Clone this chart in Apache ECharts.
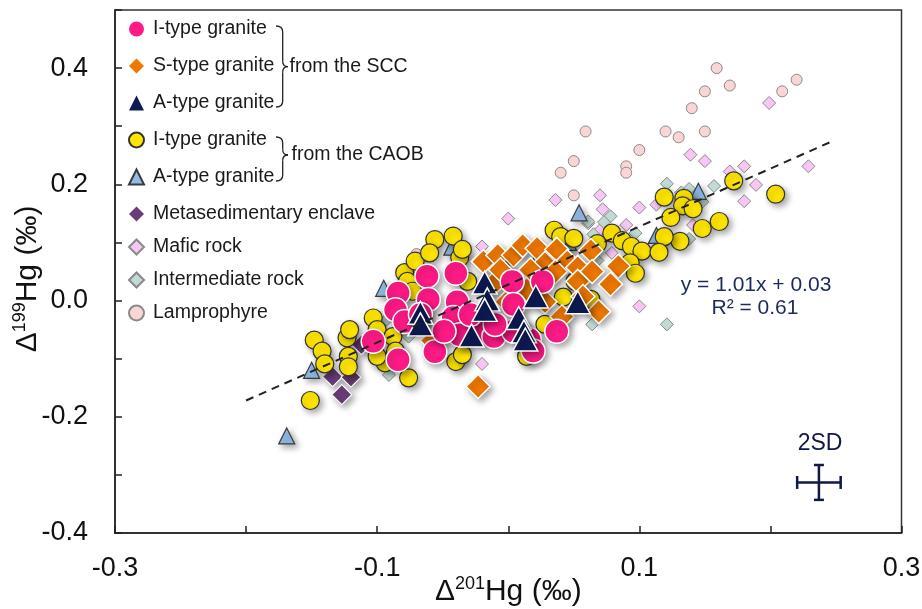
<!DOCTYPE html>
<html>
<head>
<meta charset="utf-8">
<script src="https://cdn.jsdelivr.net/npm/echarts@6/dist/echarts.min.js"></script>
<style>
html,body{margin:0;padding:0;background:#fff;}
#chart{width:922px;height:609px;}
</style>
</head>
<body>
<div id="chart"></div>
<script>
// ---- data (Δ201Hg, Δ199Hg in ‰) ----
const sccIType = [
  [-0.103,-0.070],[-0.084,-0.102],[-0.084,0.013],[-0.086,-0.016],[-0.079,-0.036],
  [-0.062,0.042],[-0.061,0.002],[-0.067,-0.024],[-0.056,-0.088],[-0.040,0.047],
  [-0.039,-0.002],[-0.042,-0.029],[-0.037,-0.059],[-0.020,-0.053],[-0.011,-0.062],
  [0.003,0.033],[0.004,-0.053],[0.016,-0.067],[0.026,0.033],[0.037,-0.053],
  [0.019,-0.087],[0.004,-0.007],[-0.010,-0.041],[-0.049,-0.053],[-0.029,-0.024]
];
const sccSType = [
  [-0.019,0.067],[-0.008,0.078],[0.004,0.078],[0.011,0.095],[0.022,0.090],
  [0.028,0.064],[0.037,0.088],[0.063,0.086],[0.045,0.067],[0.036,0.050],
  [0.053,0.057],[0.053,0.033],[0.064,0.050],[0.084,0.059],[0.078,0.028],
  [0.069,-0.019],[0.041,-0.028],[0.028,-0.002],[-0.010,0.031],[-0.001,-0.002],
  [-0.006,0.053],[0.017,0.053],[0.014,0.019],[-0.023,-0.148],[-0.058,-0.069],
  [0.057,0.007]
];
const sccAType = [
  [-0.067,-0.021],[-0.067,-0.041],[-0.028,-0.060],[-0.018,0.031],[-0.016,0.002],
  [-0.018,-0.016],[0.008,-0.030],[0.012,-0.053],[0.013,-0.067],[0.021,0.007],
  [0.053,-0.003]
];
const caobIType = [
  [-0.148,-0.068],[-0.142,-0.087],[-0.140,-0.109],[-0.151,-0.172],[-0.123,-0.064],
  [-0.121,-0.050],[-0.122,-0.096],[-0.122,-0.114],[-0.103,-0.030],[-0.100,-0.050],
  [-0.088,-0.062],[-0.094,-0.107],[-0.076,-0.133],[-0.100,-0.096],[-0.086,-0.087],
  [-0.079,0.048],[-0.071,0.068],[-0.077,0.033],[-0.056,0.105],[-0.060,0.082],
  [-0.037,0.074],[-0.042,0.111],[-0.035,0.088],[-0.040,-0.105],[-0.035,-0.093],
  [0.014,-0.096],[0.035,0.121],[0.040,0.110],[0.050,0.107],[0.068,0.098],
  [0.079,0.116],[0.087,0.103],[0.094,0.093],[0.102,0.085],[0.093,0.065],
  [0.097,0.047],[0.042,0.006],[0.028,-0.041],[0.026,0.076],[0.119,0.178],
  [0.134,0.176],[0.133,0.163],[0.141,0.158],[0.124,0.143],[0.148,0.124],
  [0.161,0.136],[0.131,0.102],[0.119,0.110],[0.115,0.083],[0.172,0.206],
  [0.204,0.183],[-0.073,0.016],[-0.067,-0.029],[-0.031,0.033],[-0.006,0.057],
  [0.009,-0.050],[0.051,0.033],[0.063,0.002]
];
const caobAType = [
  [-0.169,-0.233],[-0.150,-0.120],[-0.095,0.021],[-0.043,0.092],[0.054,0.151],
  [0.046,0.100],[0.113,0.112],[0.145,0.188]
];
const metasedimentary = [
  [-0.134,-0.131],[-0.120,-0.132],[-0.127,-0.162],[-0.112,-0.076]
];
const maficRock = [
  [0.199,0.340],[0.229,0.231],[0.139,0.251],[0.150,0.240],[0.180,0.231],
  [0.169,0.222],[0.189,0.199],[0.180,0.171],[0.036,0.173],[0.070,0.181],
  [0.072,0.157],[0.100,0.160],[0.113,0.165],[0.000,0.141],[0.061,0.133],
  [0.070,0.121],[0.090,0.130],[0.141,0.130],[0.100,-0.010],[-0.020,0.093],
  [0.079,0.082],[-0.020,-0.109]
];
const intermediateRock = [
  [0.121,0.201],[0.157,0.197],[0.138,0.192],[0.132,0.186],[0.148,0.170],
  [0.078,0.145],[0.073,0.135],[0.061,0.136],[0.097,0.116],[0.065,0.114],
  [0.138,0.106],[0.121,-0.041],[0.064,-0.041],[-0.076,-0.062],[-0.091,-0.128],
  [0.068,0.069],[-0.093,-0.033]
];
const lamprophyre = [
  [0.159,0.400],[0.150,0.360],[0.169,0.370],[0.220,0.380],[0.209,0.360],
  [0.140,0.331],[0.059,0.291],[0.120,0.291],[0.130,0.281],[0.150,0.291],
  [0.100,0.259],[0.050,0.240],[0.040,0.220],[0.090,0.231],[0.090,0.220],
  [0.050,0.181],[-0.070,0.080]
];
const regressionLine = [[-0.200,-0.172],[0.245,0.272]];
const errorBar2SD = [[0.237,-0.313,0.0166,0.030]]; // x, y, half-width x, half-height y
const xRange = [-0.3, 0.3];
const yRange = [-0.4, 0.5];

// ---- chart ----
const FONT = 'Arial, "Liberation Sans", sans-serif';
const chart = echarts.init(document.getElementById('chart'), null, {renderer:'canvas'});
const shadow = {shadowBlur:6, shadowOffsetX:3, shadowOffsetY:3, shadowColor:'rgba(0,0,0,0.35)'};

function sc(name, data, symbol, size, color, border, bw, withShadow){
  return {
    name: name, type:'scatter', data: data, symbol: symbol, symbolSize: size,
    itemStyle: Object.assign({color:color, borderColor:border, borderWidth:bw, opacity:1},
      withShadow ? shadow : {}),
    emphasis:{disabled:true}, silent:true
  };
}

function brace(xL, yTop, yMid, yBot, xV, xTip){
  const st = {fill:'none', stroke:'#222', lineWidth:1.3};
  return {type:'group', silent:true, children:[
    {type:'bezierCurve', shape:{x1:xL,y1:yTop,x2:xV,y2:yTop+6,cpx1:xL+5,cpy1:yTop,cpx2:xV,cpy2:yTop+2}, style:st},
    {type:'line', shape:{x1:xV,y1:yTop+6,x2:xV,y2:yMid-5.5}, style:st},
    {type:'bezierCurve', shape:{x1:xV,y1:yMid-5.5,x2:xTip,y2:yMid,cpx1:xV,cpy1:yMid-1.5,cpx2:xV+1.5,cpy2:yMid}, style:st},
    {type:'bezierCurve', shape:{x1:xTip,y1:yMid,x2:xV,y2:yMid+5.5,cpx1:xV+1.5,cpy1:yMid,cpx2:xV,cpy2:yMid+1.5}, style:st},
    {type:'line', shape:{x1:xV,y1:yMid+5.5,x2:xV,y2:yBot-6}, style:st},
    {type:'bezierCurve', shape:{x1:xV,y1:yBot-6,x2:xL,y2:yBot,cpx1:xV,cpy1:yBot-2,cpx2:xL+5,cpy2:yBot}, style:st}
  ]};
}

const nameRich = {
  d:{fontFamily:FONT, fontSize:30, color:'#111', lineHeight:34},
  s:{fontFamily:FONT, fontSize:18, color:'#111', verticalAlign:'top', lineHeight:19},
  h:{fontFamily:FONT, fontSize:30, color:'#111', lineHeight:34}
};
const noBorder = {borderWidth:0};

const option = {
  animation:false,
  backgroundColor:'#fff',
  grid:{left:115, right:20.5, top:10, bottom:76, show:true, borderColor:'#333', borderWidth:1.5,
        containLabel:false, outerBoundsMode:'none'},
  xAxis:{
    type:'value', min:xRange[0], max:xRange[1], interval:0.1,
    name:'{d|Δ}{s|201}{h|Hg (‰)}', nameLocation:'middle', nameGap:42, nameMoveOverlap:false,
    nameTextStyle:{rich:nameRich},
    axisLine:{show:true, onZero:false, lineStyle:{color:'#222', width:1.5}},
    axisTick:{show:true, inside:true, length:7, lineStyle:{color:'#222', width:1.5}},
    splitLine:{show:false},
    axisLabel:{fontFamily:FONT, fontSize:27, color:'#111', margin:22,
      formatter:function(v){ return Math.abs(Math.round(v*10))%2===1 ? v.toFixed(1) : ''; }}
  },
  yAxis:{
    type:'value', min:yRange[0], max:yRange[1], interval:0.1,
    name:'{d|Δ}{s|199}{h|Hg (‰)}', nameLocation:'middle', nameGap:70, nameMoveOverlap:false,
    nameTextStyle:{padding:[0,15,0,0], rich:nameRich},
    axisLine:{show:true, onZero:false, lineStyle:{color:'#222', width:1.5}},
    axisTick:{show:true, inside:true, length:7, lineStyle:{color:'#222', width:1.5}},
    splitLine:{show:false},
    axisLabel:{fontFamily:FONT, fontSize:27, color:'#111', margin:27,
      formatter:function(v){ return Math.abs(Math.round(v*10))%2===0 ? v.toFixed(1) : ''; }}
  },
  legend:[
    {data:[{name:'I-type granite (SCC)', itemStyle:noBorder},{name:'S-type granite', itemStyle:noBorder},
           {name:'A-type granite (SCC)', itemStyle:noBorder},'I-type granite (CAOB)','A-type granite (CAOB)',
           {name:'Metasedimentary enclave', itemStyle:noBorder}],
     orient:'vertical', left:123, top:13, itemWidth:15, itemHeight:15, itemGap:15, selectedMode:false,
     itemStyle:{shadowBlur:0, shadowOffsetX:0, shadowOffsetY:0, shadowColor:'rgba(0,0,0,0)'},
     textStyle:{fontFamily:FONT, fontSize:19.5, color:'#1a1a1a', lineHeight:22, padding:[0,0,0,4]},
     formatter:function(n){ return n.replace(/ \((SCC|CAOB)\)$/,''); }},
    {data:['Mafic rock','Intermediate rock','Lamprophyre'],
     orient:'vertical', left:123, top:231, itemWidth:15, itemHeight:15, itemGap:11, selectedMode:false,
     itemStyle:{shadowBlur:0, shadowOffsetX:0, shadowOffsetY:0, shadowColor:'rgba(0,0,0,0)'},
     textStyle:{fontFamily:FONT, fontSize:19.5, color:'#1a1a1a', lineHeight:22, padding:[0,0,0,4]}}
  ],
  series:[
    sc('Lamprophyre', lamprophyre, 'circle', 11, '#fad5d5', '#8a8a8a', 1, false),
    sc('Mafic rock', maficRock, 'diamond', 13, '#f8c6f4', '#8a8a8a', 1, false),
    sc('Intermediate rock', intermediateRock, 'diamond', 13, '#c0dad5', '#8a8a8a', 1, false),
    {type:'line', data:regressionLine, symbol:'none', silent:true,
     lineStyle:{color:'#222', width:2, type:[8,6]}},
    sc('Metasedimentary enclave', metasedimentary, 'diamond', 20, '#6b3d78', '#ffffff', 1.2, true),
    sc('A-type granite (CAOB)', caobAType, 'triangle', 16, '#92bce6', '#3a3a3a', 1.2, true),
    sc('I-type granite (CAOB)', caobIType, 'circle', 18, '#ffe600', '#333333', 1.2, true),
    sc('S-type granite', sccSType, 'diamond', 24, '#f07800', '#ffffff', 1.5, true),
    sc('I-type granite (SCC)', sccIType, 'circle', 24, '#ff1a86', '#ffffff', 1.5, true),
    sc('A-type granite (SCC)', sccAType, 'triangle', [25,23], '#0c1a52', '#ffffff', 1.5, true),
    {type:'custom', data:errorBar2SD, silent:true,
     renderItem:function(params, api){
       const x=api.value(0), y=api.value(1), ex=api.value(2), ey=api.value(3);
       const l=api.coord([x-ex,y]), r=api.coord([x+ex,y]), t=api.coord([x,y+ey]), b=api.coord([x,y-ey]);
       const st={stroke:'#101848', lineWidth:2.5};
       const cx=6.5, cy=5;
       return {type:'group', children:[
         {type:'line', shape:{x1:l[0],y1:l[1],x2:r[0],y2:r[1]}, style:st},
         {type:'line', shape:{x1:t[0],y1:t[1],x2:b[0],y2:b[1]}, style:st},
         {type:'line', shape:{x1:l[0],y1:l[1]-cx,x2:l[0],y2:l[1]+cx}, style:st},
         {type:'line', shape:{x1:r[0],y1:r[1]-cx,x2:r[0],y2:r[1]+cx}, style:st},
         {type:'line', shape:{x1:t[0]-cy,y1:t[1],x2:t[0]+cy,y2:t[1]}, style:st},
         {type:'line', shape:{x1:b[0]-cy,y1:b[1],x2:b[0]+cy,y2:b[1]}, style:st}
       ]};
     }}
  ],
  graphic:[
    brace(276, 26, 66.7, 107, 282.7, 288),
    brace(276, 137, 155, 181, 282.7, 288),
    {type:'text', silent:true, x:289.5, y:67, style:{text:'from the SCC', font:'19.5px '+FONT, fill:'#1a1a1a', align:'left', verticalAlign:'middle'}},
    {type:'text', silent:true, x:291.5, y:155, style:{text:'from the CAOB', font:'19.5px '+FONT, fill:'#1a1a1a', align:'left', verticalAlign:'middle'}},
    {type:'text', silent:true, x:756, y:285, style:{text:'y = 1.01x + 0.03', font:'21px '+FONT, fill:'#1f2a5c', align:'center', verticalAlign:'middle'}},
    {type:'text', silent:true, x:755, y:308, style:{text:'R² = 0.61', font:'21px '+FONT, fill:'#1f2a5c', align:'center', verticalAlign:'middle'}},
    {type:'text', silent:true, x:820, y:444, style:{text:'2SD', font:'23px '+FONT, fill:'#101848', align:'center', verticalAlign:'middle'}}
  ]
};
chart.setOption(option);
</script>
</body>
</html>
